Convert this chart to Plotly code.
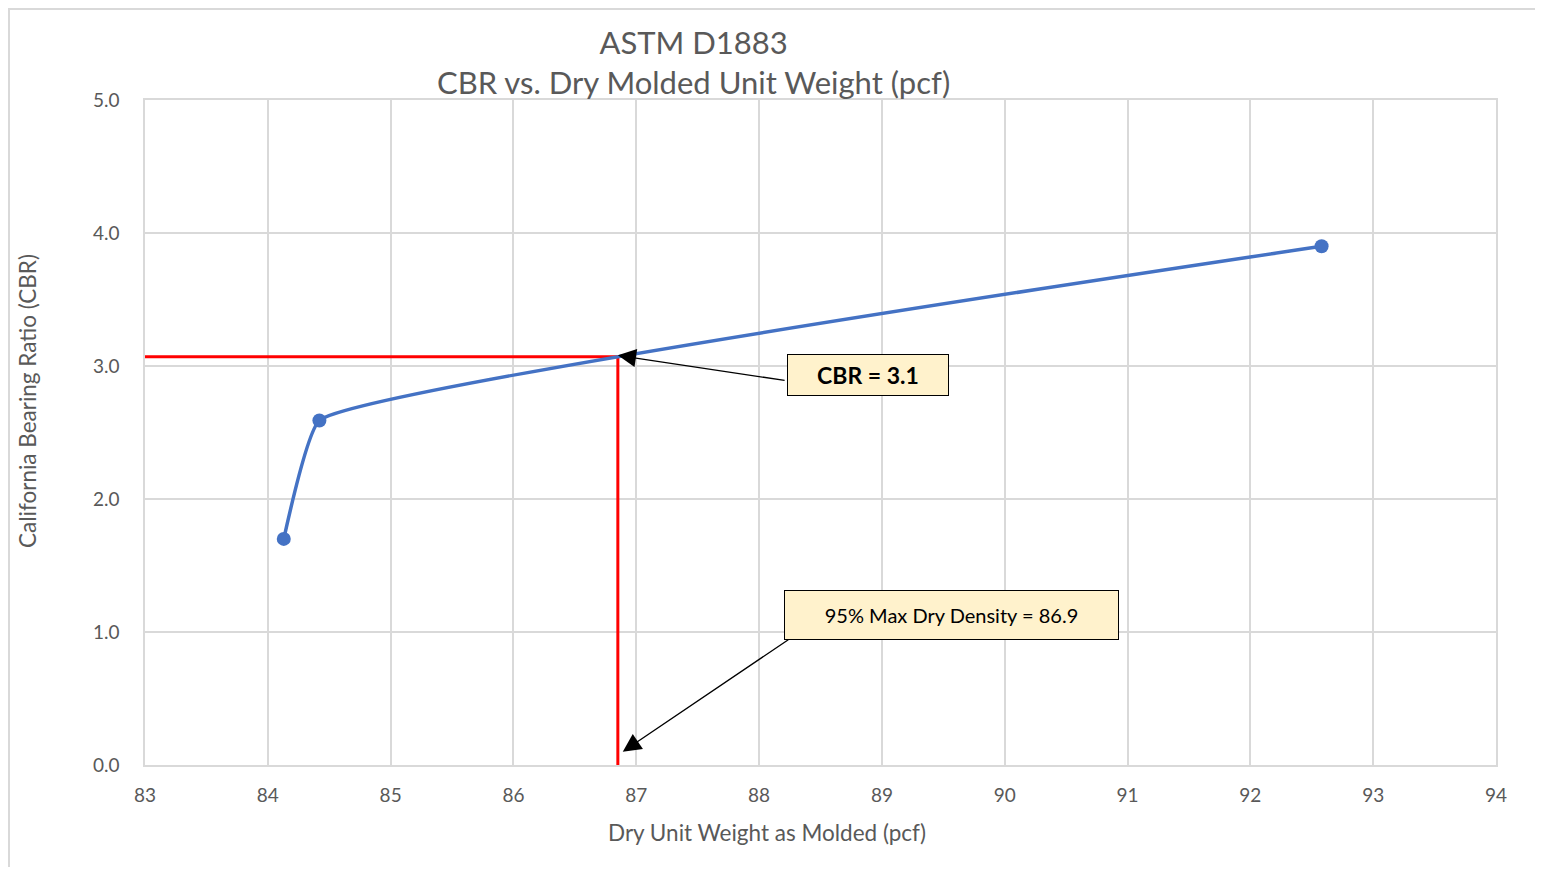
import plotly.graph_objects as go

# Data
dry_unit_weight = [84.13, 84.42, 92.58]
cbr_values = [1.70, 2.59, 3.90]

target_density = 86.85
target_cbr = 3.07
x_min, x_max = 83, 94
y_min, y_max = 0, 5

x_ticks = list(range(83, 95))
y_ticks = [0, 1, 2, 3, 4, 5]
y_tick_labels = ["0.0", "1.0", "2.0", "3.0", "4.0", "5.0"]

title_lines = ["ASTM D1883", "CBR vs. Dry Molded Unit Weight (pcf)"]
x_title = "Dry Unit Weight as Molded (pcf)"
y_title = "California Bearing Ratio (CBR)"
cbr_label = "<b>CBR = 3.1</b>"
density_label = "95% Max Dry Density = 86.9"

FONT = "Lato"
GRAY = "#595959"
GRID = "#D9D9D9"

# page-pixel geometry of plot area (page has 8px body offset)
OFF = 8
PL, PR, PT, PB = 145, 1496, 100, 765
PW, PH = PR - PL, PB - PT


def px(xp):
    return (xp - PL) / PW


def py(yp):
    return (PB - yp) / PH


fig = go.Figure()

# Red guide lines
fig.add_trace(go.Scatter(
    x=[x_min, target_density, target_density],
    y=[target_cbr, target_cbr, y_min],
    mode="lines", line=dict(color="#FF0000", width=3),
    hoverinfo="skip", showlegend=False, cliponaxis=False))

# Main curve
fig.add_trace(go.Scatter(
    x=dry_unit_weight, y=cbr_values,
    mode="lines+markers",
    line=dict(color="#4472C4", width=3.5, shape="spline", smoothing=0.3),
    marker=dict(color="#4472C4", size=14),
    showlegend=False))

# Arrows (tail positions in data coords)
fig.add_annotation(x=target_density, y=target_cbr + 0.01, xref="x", yref="y",
                   ax=88.22, ay=2.89, axref="x", ayref="y",
                   text="", showarrow=True, arrowhead=2, arrowsize=2.8,
                   arrowwidth=1.3, arrowcolor="black", standoff=0)
fig.add_annotation(x=86.89, y=0.1, xref="x", yref="y",
                   ax=88.25, ay=0.95, axref="x", ayref="y",
                   text="", showarrow=True, arrowhead=2, arrowsize=2.8,
                   arrowwidth=1.3, arrowcolor="black", standoff=0)

# Text boxes
fig.add_annotation(x=88.89, y=2.93, xref="x", yref="y", text=cbr_label,
                   showarrow=False, bgcolor="#FFF2CC", bordercolor="black",
                   borderwidth=1, borderpad=0, width=160, height=40,
                   font=dict(family=FONT, size=23, color="black"))
fig.add_annotation(x=89.57, y=1.125, xref="x", yref="y", text=density_label,
                   showarrow=False, bgcolor="#FFF2CC", bordercolor="black",
                   borderwidth=1, borderpad=0, width=333, height=48,
                   font=dict(family=FONT, size=20, color="black"))

# Titles as annotations
fig.add_annotation(x=px(693), y=py(62), xref="paper", yref="paper",
                   yanchor="middle", xanchor="center",
                   text="<br>".join(title_lines), showarrow=False,
                   font=dict(family=FONT, size=31, color=GRAY))
fig.add_annotation(x=px(767), y=py(833), xref="paper", yref="paper",
                   xanchor="center", yanchor="middle", text=x_title,
                   showarrow=False, font=dict(family=FONT, size=22.5, color=GRAY))
fig.add_annotation(x=px(27), y=py(401), xref="paper", yref="paper",
                   xanchor="center", yanchor="middle", text=y_title, textangle=-90,
                   showarrow=False, font=dict(family=FONT, size=22.5, color=GRAY))

# Outer chart border
fig.add_shape(type="rect", xref="paper", yref="paper",
              x0=px(9), x1=px(1600), y0=py(950), y1=py(9),
              line=dict(color=GRID, width=2), fillcolor="rgba(0,0,0,0)", layer="below")

fig.update_xaxes(range=[x_min, x_max], tickvals=x_ticks, showgrid=True,
                 gridcolor=GRID, gridwidth=1.5, zeroline=False,
                 showline=True, linecolor=GRID, linewidth=1.5, mirror=True,
                 ticks="", ticklabelstandoff=12,
                 tickfont=dict(family=FONT, size=19, color=GRAY))
fig.update_yaxes(range=[y_min, y_max], tickvals=y_ticks, ticktext=y_tick_labels,
                 showgrid=True, gridcolor=GRID, gridwidth=1.5, zeroline=False,
                 showline=True, linecolor=GRID, linewidth=1.5, mirror=True,
                 ticks="", ticklabelstandoff=20,
                 tickfont=dict(family=FONT, size=19, color=GRAY))

W, H = 1527, 859
fig.update_layout(width=W, height=H,
                  margin=dict(l=PL - OFF, r=W + OFF - PR, t=PT - OFF, b=H + OFF - PB),
                  paper_bgcolor="white", plot_bgcolor="white",
                  font=dict(family=FONT))

fig.write_html("out.html")
